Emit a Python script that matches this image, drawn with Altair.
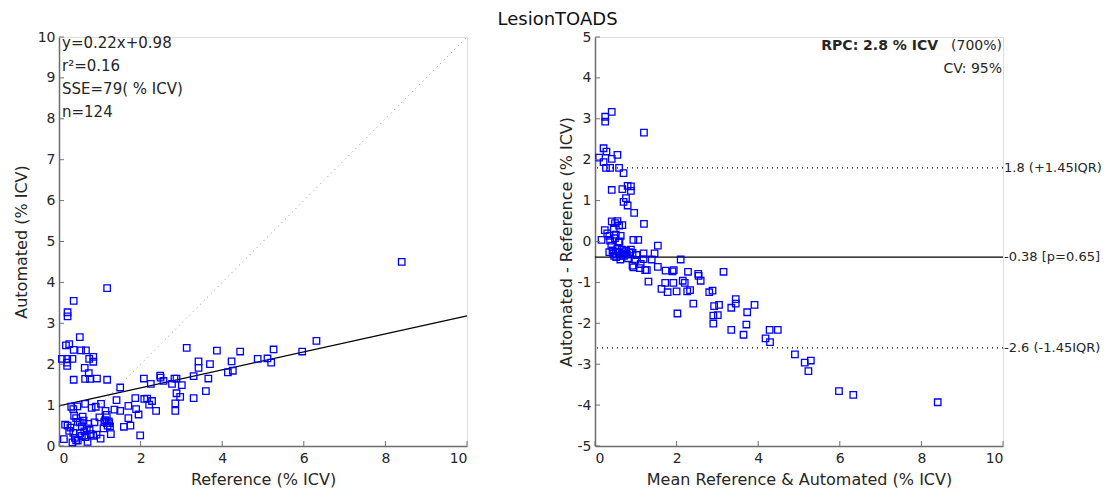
import altair as alt
import pandas as pd

# ---------------- data ----------------
ref_x = [1.18, 0.36, 0.21, 0.21, 0.51, 0.17, 0.25, 0.36, 0.54, 0.66,
         0.84, 0.74, 0.84, 0.07, 0.20, 0.33, 0.20, 0.20, 0.63, 0.73,
         0.64, 0.76, 0.93, 0.36, 1.18, 1.50, 2.08, 2.25, 2.48, 2.49,
         2.56, 2.77, 2.83, 2.88, 3.01, 3.13, 3.30, 3.42, 3.42, 3.66,
         3.70, 3.87, 3.60, 2.88, 2.97, 2.85, 2.85, 3.30, 4.14, 4.26,
         4.23, 4.44, 5.26, 6.31, 5.96, 5.11, 5.20, 4.87, 8.40, 1.87,
         2.09, 2.16, 2.28, 2.21, 1.89, 1.95, 2.38, 1.70, 1.70, 1.75,
         1.99, 0.35, 0.45, 0.64, 0.90, 1.03, 1.14, 1.17, 1.36, 1.50,
         1.41, 1.59, 0.37, 0.42, 0.46, 0.51, 0.56, 0.21, 0.25, 0.12,
         0.35, 0.33, 0.39, 0.46, 0.56, 0.62, 0.68, 0.72, 0.75, 0.78,
         0.87, 0.84, 0.92, 0.99, 1.11, 1.17, 1.23, 1.19, 1.09, 1.27,
         1.22, 0.28, 0.52, 0.65, 0.42, 0.15, 1.13, 0.80, 1.25, 0.58,
         0.30, 0.70, 1.02, 0.60]
auto_y = [3.86, 3.55, 3.27, 3.17, 2.66, 2.46, 2.49, 2.35, 2.34, 2.34,
          2.18, 2.13, 2.06, 2.13, 2.13, 2.13, 2.04, 1.96, 1.91, 1.78,
          1.64, 1.64, 1.65, 1.62, 1.62, 1.43, 1.65, 1.52, 1.72, 1.67,
          1.59, 1.52, 1.65, 1.65, 1.49, 2.40, 1.71, 2.07, 1.91, 1.65,
          2.00, 2.33, 1.34, 1.29, 1.20, 1.04, 0.86, 1.17, 1.80, 1.84,
          2.07, 2.31, 2.36, 2.57, 2.31, 2.14, 2.04, 2.13, 4.50, 1.17,
          1.15, 1.16, 1.10, 1.01, 0.90, 0.77, 0.86, 0.98, 0.68, 0.50,
          0.26, 0.90, 0.97, 1.03, 0.96, 1.03, 0.86, 0.76, 0.89, 0.86,
          1.12, 0.47, 0.74, 0.68, 0.59, 0.58, 0.48, 0.50, 0.37, 0.17,
          0.32, 0.09, 0.20, 0.13, 0.25, 0.36, 0.43, 0.54, 0.40, 0.29,
          0.58, 0.25, 0.28, 0.70, 0.59, 0.56, 0.56, 0.50, 0.43, 0.29,
          0.60, 0.45, 0.31, 0.22, 0.14, 0.52, 0.63, 0.93, 0.48, 0.72,
          0.96, 0.10, 0.18, 0.62]

mean_x = [0.41, 0.25, 0.25, 1.20, 0.21, 0.28, 0.55, 0.10, 0.41, 0.21,
          0.27, 0.37, 0.59, 0.70, 0.80, 0.88, 0.67, 0.41, 0.88, 0.76,
          0.70, 0.80, 0.96, 0.41, 0.49, 1.20, 0.67, 0.59, 0.24, 0.46,
          0.35, 0.51, 0.63, 0.16, 0.37, 0.49, 0.58, 0.94, 1.06, 1.54,
          0.35, 0.43, 0.51, 0.59, 0.67, 0.76, 0.84, 0.92, 1.02, 1.19,
          1.46, 0.47, 0.63, 0.71, 0.62, 0.81, 1.19, 1.39, 0.92, 0.94,
          1.10, 1.23, 1.27, 1.54, 1.73, 1.90, 2.10, 2.28, 2.53, 2.54,
          2.59, 3.15, 1.31, 1.72, 1.92, 2.15, 2.20, 1.63, 1.78, 2.00,
          2.26, 2.33, 2.80, 2.88, 2.41, 2.02, 2.92, 3.04, 2.90, 3.01,
          2.90, 3.45, 3.45, 3.34, 3.91, 3.73, 3.71, 3.34, 3.64, 4.28,
          4.48, 4.18, 4.29, 4.90, 5.14, 5.29, 5.23, 5.98, 6.33, 8.40,
          0.55, 0.73, 0.45, 0.88, 0.66, 0.78, 0.30, 0.55, 0.99, 0.40,
          0.60, 1.93, 1.12, 0.52]
diff_y = [3.17, 3.05, 2.93, 2.66, 2.28, 2.20, 2.12, 2.05, 2.02, 1.94,
          1.80, 1.80, 1.80, 1.67, 1.36, 1.35, 1.28, 1.26, 1.24, 1.06,
          0.97, 0.88, 0.70, 0.49, 0.45, 0.43, 0.40, 0.39, 0.28, 0.31,
          0.14, 0.17, 0.14, 0.04, 0.02, 0.08, -0.02, 0.04, 0.04, -0.10,
          -0.26, -0.22, -0.25, -0.28, -0.26, -0.22, -0.26, -0.28, -0.33, -0.29,
          -0.29, -0.35, -0.35, -0.35, -0.44, -0.41, -0.43, -0.44, -0.59, -0.63,
          -0.65, -0.70, -0.70, -0.62, -0.71, -0.73, -0.44, -0.74, -0.79, -0.84,
          -0.96, -0.74, -0.98, -1.01, -1.01, -0.96, -1.01, -1.16, -1.24, -1.22,
          -1.22, -1.19, -1.24, -1.20, -1.52, -1.76, -1.58, -1.55, -1.81, -1.80,
          -2.01, -1.41, -1.52, -1.62, -1.55, -1.73, -2.03, -2.16, -2.28, -2.16,
          -2.16, -2.37, -2.46, -2.76, -2.96, -2.91, -3.17, -3.66, -3.75, -3.93,
          -0.18, -0.30, -0.30, -0.20, -0.20, -0.32, 0.20, 0.50, -0.45, -0.10,
          0.00, -0.70, -0.55, -0.38]

reg_slope = 0.22
reg_intercept = 0.98
ident_x = [0, 10]

limit_values = [1.8, -0.38, -2.6]
limit_labels = ["1.8 (+1.45IQR)", "-0.38 [p=0.65]", "-2.6 (-1.45IQR)"]
limit_dash = ["dot", "solid", "dot"]

left_stats = "y=0.22x+0.98\nr\u00b2=0.16\nSSE=79( % ICV)\nn=124"
rpc_bold = "RPC: 2.8 % ICV"
rpc_rest = "(700%)"
cv_text = "CV: 95%"

left_yticks = list(range(0, 11))
left_xticks = [0, 2, 4, 6, 8, 10]
right_yticks = list(range(-5, 6))
right_xticks = [0, 2, 4, 6, 8, 10]

# ---------------- styling ----------------
FONT = "DejaVu Sans"
TXT = "#262626"
AXC = "#6e6e6e"
W1, W2, H = 408, 408, 409
BLUE = "#0000ff"

scatter_df = pd.DataFrame({"x": ref_x, "y": auto_y})
ba_df = pd.DataFrame({"x": mean_x, "y": diff_y})
ident_df = pd.DataFrame({"x": ident_x, "y": ident_x})
reg_df = pd.DataFrame({"x": ident_x, "y": [reg_intercept + reg_slope * v for v in ident_x]})
lim_df = pd.DataFrame({"y": limit_values, "label": limit_labels, "dash": limit_dash,
                       "x": [10] * len(limit_values)})

lx = alt.Scale(domain=[0, 10], nice=False, zero=False)
ly = alt.Scale(domain=[0, 10], nice=False, zero=False)
rx = alt.Scale(domain=[0, 10], nice=False, zero=False)
ry = alt.Scale(domain=[-5, 5], nice=False, zero=False)


def axis(title, values, pad_label, pad_title):
    return alt.Axis(title=title, values=values, grid=False, ticks=False,
                    labelExpr="datum.value + ''",
                    labelFont=FONT, labelFontSize=14, labelColor=TXT, labelPadding=pad_label,
                    titleFont=FONT, titleFontSize=16, titleFontWeight="normal",
                    titleColor=TXT, titlePadding=pad_title,
                    domainColor=AXC, domainWidth=1.5)


# ---------- left panel ----------
l_points = alt.Chart(scatter_df).mark_point(
    shape="square", size=42, filled=False, color=BLUE, strokeWidth=1.3, opacity=1
).encode(
    x=alt.X("x:Q", scale=lx, axis=axis("Reference (% ICV)", left_xticks, 5, 6)),
    y=alt.Y("y:Q", scale=ly, axis=axis("Automated (% ICV)", left_yticks, 4, 8)),
)
l_ident = alt.Chart(ident_df).mark_line(color="#8c8c8c", strokeDash=[1, 4], strokeWidth=1).encode(
    x=alt.X("x:Q", scale=lx), y=alt.Y("y:Q", scale=ly))
l_reg = alt.Chart(reg_df).mark_line(color="black", strokeWidth=1.2).encode(
    x=alt.X("x:Q", scale=lx), y=alt.Y("y:Q", scale=ly))
l_stats = alt.Chart(pd.DataFrame({"t": [left_stats]})).mark_text(
    align="left", baseline="top", font=FONT, fontSize=15, color=TXT,
    lineBreak="\n", lineHeight=23
).encode(x=alt.value(3), y=alt.value(-1), text="t:N")
l_yt = alt.Chart(pd.DataFrame({"v": left_yticks})).mark_rule(color=AXC, strokeWidth=1).encode(
    y=alt.Y("v:Q", scale=ly), x=alt.value(0), x2=alt.value(5))
l_xt = alt.Chart(pd.DataFrame({"v": left_xticks})).mark_rule(color=AXC, strokeWidth=1).encode(
    x=alt.X("v:Q", scale=lx), y=alt.value(H), y2=alt.value(H - 5))

left = alt.layer(l_ident, l_reg, l_points, l_yt, l_xt, l_stats).properties(width=W1, height=H)

# ---------- right panel ----------
r_points = alt.Chart(ba_df).mark_point(
    shape="square", size=42, filled=False, color=BLUE, strokeWidth=1.3, opacity=1
).encode(
    x=alt.X("x:Q", scale=rx, axis=axis("Mean Reference & Automated (% ICV)", right_xticks, 5, 6)),
    y=alt.Y("y:Q", scale=ry, axis=axis("Automated - Reference (% ICV)", right_yticks, 4, 3)),
)
r_solid = alt.Chart(lim_df[lim_df.dash == "solid"]).mark_rule(color="black", strokeWidth=1.2).encode(
    y=alt.Y("y:Q", scale=ry))
r_dot = alt.Chart(lim_df[lim_df.dash == "dot"]).mark_rule(color="black", strokeWidth=1.2,
                                                         strokeDash=[1, 4]).encode(
    y=alt.Y("y:Q", scale=ry))
r_labels = alt.Chart(lim_df).mark_text(
    align="left", baseline="middle", dx=1, font=FONT, fontSize=13, color=TXT
).encode(x=alt.X("x:Q", scale=rx), y=alt.Y("y:Q", scale=ry), text="label:N")
r_rpc = alt.Chart(pd.DataFrame({"t": [rpc_bold]})).mark_text(
    align="right", baseline="middle", font=FONT, fontSize=14, fontWeight="bold", color=TXT
).encode(x=alt.value(W2 - 65), y=alt.value(9), text="t:N")
r_rest = alt.Chart(pd.DataFrame({"t": [rpc_rest]})).mark_text(
    align="right", baseline="middle", font=FONT, fontSize=14, color=TXT
).encode(x=alt.value(W2 - 1), y=alt.value(9), text="t:N")
r_cv = alt.Chart(pd.DataFrame({"t": [cv_text]})).mark_text(
    align="right", baseline="middle", font=FONT, fontSize=14, color=TXT
).encode(x=alt.value(W2 - 1), y=alt.value(32), text="t:N")
r_yt = alt.Chart(pd.DataFrame({"v": right_yticks})).mark_rule(color=AXC, strokeWidth=1).encode(
    y=alt.Y("v:Q", scale=ry), x=alt.value(0), x2=alt.value(5))
r_xt = alt.Chart(pd.DataFrame({"v": right_xticks})).mark_rule(color=AXC, strokeWidth=1).encode(
    x=alt.X("v:Q", scale=rx), y=alt.value(H), y2=alt.value(H - 5))

right = alt.layer(r_solid, r_dot, r_points, r_yt, r_xt, r_labels, r_rpc, r_rest, r_cv).properties(
    width=W2, height=H)

chart = alt.hconcat(left, right, spacing=87).properties(
    title=alt.TitleParams("LesionTOADS", font=FONT, fontSize=18, fontWeight="normal",
                          color="#111111", anchor="middle", offset=1),
    padding={"left": 4, "top": 2, "right": 0, "bottom": 0},
).configure_view(stroke=None).configure(background="white")

chart.save("out.html", embed_options={"renderer": "svg", "actions": False})
